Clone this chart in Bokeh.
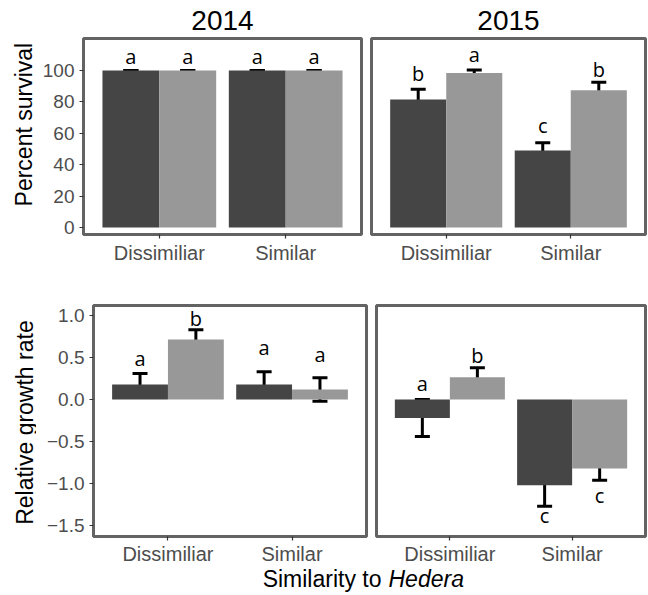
import math
from bokeh.plotting import figure
from bokeh.models import (FactorRange, Range1d, FixedTicker, Whisker, TeeHead,
                          ColumnDataSource, Label, CustomJSTickFormatter)
from bokeh.transform import dodge
from bokeh.layouts import column, row
from bokeh.embed import file_html
from bokeh.resources import INLINE
from bokeh.core.properties import value

# ---------------- data ----------------
categories = ["Dissimiliar", "Similar"]
years = ["2014", "2015"]

# Percent survival (mean, SE) for the dark and light series
surv_2014_dark = [100, 100]
surv_2014_dark_se = [0, 0]
surv_2014_light = [100, 100]
surv_2014_light_se = [0, 0]
surv_2015_dark = [81.5, 49.0]
surv_2015_dark_se = [6.6, 5.0]
surv_2015_light = [98.4, 87.5]
surv_2015_light_se = [2.0, 5.0]

# Relative growth rate (mean, SE)
rgr_2014_dark = [0.18, 0.18]
rgr_2014_dark_se = [0.13, 0.15]
rgr_2014_light = [0.715, 0.12]
rgr_2014_light_se = [0.115, 0.14]
rgr_2015_dark = [-0.22, -1.02]
rgr_2015_dark_se = [0.22, 0.25]
rgr_2015_light = [0.265, -0.82]
rgr_2015_light_se = [0.115, 0.14]

# significance letters and their heights
surv_2014_dark_letters = ["a", "a"]
surv_2014_dark_letter_y = [108.8, 108.8]
surv_2014_light_letters = ["a", "a"]
surv_2014_light_letter_y = [108.8, 108.8]
surv_2015_dark_letters = ["b", "c"]
surv_2015_dark_letter_y = [97.9, 65.2]
surv_2015_light_letters = ["a", "b"]
surv_2015_light_letter_y = [109.9, 100.6]

rgr_2014_dark_letters = ["a", "a"]
rgr_2014_dark_letter_y = [0.484, 0.618]
rgr_2014_light_letters = ["b", "a"]
rgr_2014_light_letter_y = [0.969, 0.54]
rgr_2015_dark_letters = ["a", "c"]
rgr_2015_dark_letter_y = [0.189, -1.376]
rgr_2015_light_letters = ["b", "c"]
rgr_2015_light_letter_y = [0.53, -1.146]

surv_ticks = [0, 20, 40, 60, 80, 100]
rgr_ticks = [-1.5, -1.0, -0.5, 0.0, 0.5, 1.0]

y_titles = ["Percent survival", "Relative growth rate"]
x_title = ["Similarity to", "Hedera"]

DARK = "#454545"
LIGHT = "#989898"
BORDER = "#636363"
TICKLAB = "#4D4D4D"
FONT = "Liberation Sans"
LETTER_FONT = "Open Sans"


def blank(w, h):
    f = figure(width=w, height=h, x_range=Range1d(0, w), y_range=Range1d(h, 0),
               min_border=0, toolbar_location=None, output_backend="svg",
               x_axis_location=None, y_axis_location=None)
    f.xgrid.visible = False
    f.ygrid.visible = False
    f.outline_line_color = None
    f.background_fill_color = "white"
    f.border_fill_color = "white"
    return f


def make_panel(w, h, bl, br, bt, bb, yr, ticks, show_y, xstandoff,
               dark, dark_se, light, light_se, dl, dly, ll, lly, fmt=None):
    p = figure(x_range=FactorRange(*categories, range_padding=0.1,
                                   range_padding_units="absolute"),
               y_range=Range1d(*yr), width=w, height=h,
               min_border_left=bl, min_border_right=br, min_border_top=bt,
               min_border_bottom=bb, toolbar_location=None,
               output_backend="svg",
               y_axis_location="left" if show_y else None)
    p.xgrid.visible = False
    p.ygrid.visible = False
    p.outline_line_color = BORDER
    p.outline_line_width = 3
    p.background_fill_color = "white"
    p.border_fill_color = "white"

    for ax in p.axis:
        ax.axis_line_color = None
        ax.major_tick_line_color = "#333333"
        ax.major_tick_line_width = 1.2
        ax.major_tick_out = 4
        ax.major_tick_in = 0
        ax.minor_tick_line_color = None
        ax.major_label_text_font = FONT
        ax.major_label_text_color = TICKLAB
    p.xaxis.major_label_text_font_size = "20px"
    p.xaxis.major_label_standoff = xstandoff
    if show_y:
        p.yaxis.ticker = FixedTicker(ticks=ticks)
        p.yaxis.major_label_text_font_size = "19px"
        p.yaxis.major_label_standoff = 5
        if fmt is not None:
            p.yaxis.formatter = fmt

    for vals, se, col, off, lt, ly in [(dark, dark_se, DARK, -0.225, dl, dly),
                                       (light, light_se, LIGHT, 0.225, ll, lly)]:
        src = ColumnDataSource(dict(cat=categories, val=vals,
                                    upper=[v + s for v, s in zip(vals, se)],
                                    lower=[v - s for v, s in zip(vals, se)],
                                    lt=lt, ly=ly))
        p.vbar(x=dodge("cat", off, range=p.x_range), top="val", bottom=0,
               width=0.45, source=src, fill_color=col, line_color=None)
        p.add_layout(Whisker(source=src, base=dodge("cat", off, range=p.x_range),
                             upper="upper", lower="lower",
                             line_color="black", line_width=3,
                             upper_head=TeeHead(size=15, line_width=3, line_color="black"),
                             lower_head=TeeHead(size=15, line_width=3, line_color="black")))
        p.text(x=dodge("cat", off, range=p.x_range), y="ly", text="lt", source=src,
               text_align="center", text_baseline="middle",
               text_font=value(LETTER_FONT), text_font_size="20px",
               text_color="black")
    return p


minus_fmt = CustomJSTickFormatter(code="return tick.toFixed(1).replace('-', '\u2212');")

# ---- layout (pixels) ----
W = 648
TITLE_H = 36
TOP_H = 239
BOT_H = 292
XT_H = 28
YT_W = 36

p1 = make_panel(330, TOP_H, 47, 5, 2, 41, (-4.5, 120.4), surv_ticks, True, 3,
                surv_2014_dark, surv_2014_dark_se, surv_2014_light, surv_2014_light_se,
                surv_2014_dark_letters, surv_2014_dark_letter_y,
                surv_2014_light_letters, surv_2014_light_letter_y)
p2 = make_panel(282, TOP_H, 5, 3, 2, 41, (-4.5, 120.4), surv_ticks, False, 3,
                surv_2015_dark, surv_2015_dark_se, surv_2015_light, surv_2015_light_se,
                surv_2015_dark_letters, surv_2015_dark_letter_y,
                surv_2015_light_letters, surv_2015_light_letter_y)
p3 = make_panel(335, BOT_H, 57, 5, 30, 30, (-1.63, 1.12), rgr_ticks, True, 2,
                rgr_2014_dark, rgr_2014_dark_se, rgr_2014_light, rgr_2014_light_se,
                rgr_2014_dark_letters, rgr_2014_dark_letter_y,
                rgr_2014_light_letters, rgr_2014_light_letter_y, fmt=minus_fmt)
p4 = make_panel(277, BOT_H, 5, 3, 30, 30, (-1.63, 1.12), rgr_ticks, False, 2,
                rgr_2015_dark, rgr_2015_dark_se, rgr_2015_light, rgr_2015_light_se,
                rgr_2015_dark_letters, rgr_2015_dark_letter_y,
                rgr_2015_light_letters, rgr_2015_light_letter_y)

# year titles strip
ttl = blank(W, TITLE_H)
for txt, xc in zip(years, [222, 508]):
    ttl.add_layout(Label(x=xc, y=19.5, text=txt, text_align="center",
                         text_baseline="middle", text_font=FONT,
                         text_font_size="28px", text_color="black"))

# y-axis titles
yt1 = blank(YT_W, TOP_H)
yt1.add_layout(Label(x=23.5, y=105, text=y_titles[0], angle=math.pi / 2,
                     text_align="center", text_baseline="middle", text_font=FONT,
                     text_font_size="23px", text_color="black"))
yt2 = blank(YT_W, BOT_H)
yt2.add_layout(Label(x=24, y=148, text=y_titles[1], angle=math.pi / 2,
                     text_align="center", text_baseline="middle", text_font=FONT,
                     text_font_size="23px", text_color="black"))

# shared x-axis title strip
xt = blank(W, XT_H)
xt.add_layout(Label(x=381, y=11.5, text=x_title[0], text_align="right",
                    text_baseline="middle", text_font=FONT,
                    text_font_size="23px", text_color="black"))
xt.add_layout(Label(x=388, y=11.5, text=x_title[1], text_align="left",
                    text_baseline="middle", text_font=FONT,
                    text_font_size="23px", text_font_style="italic",
                    text_color="black"))

layout = column(ttl, row(yt1, p1, p2), row(yt2, p3, p4), xt)
open("out.html", "w").write(file_html(layout, INLINE))
